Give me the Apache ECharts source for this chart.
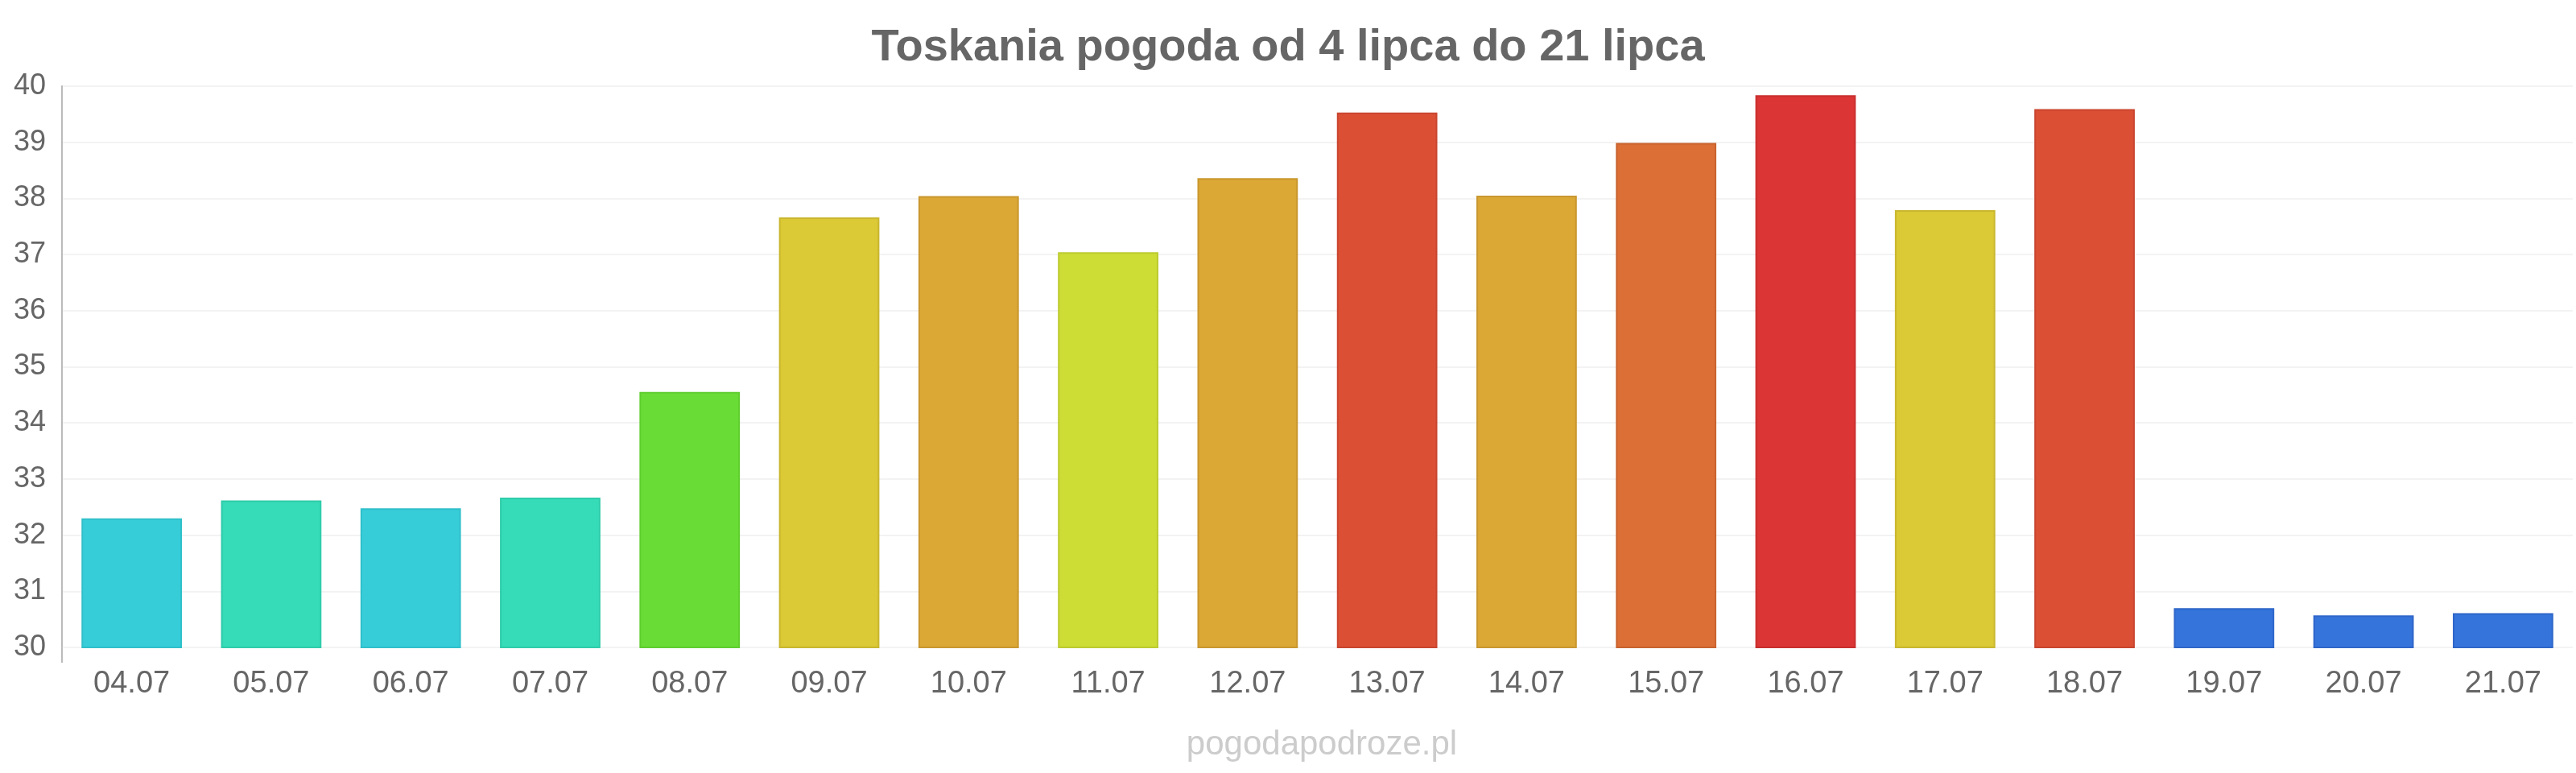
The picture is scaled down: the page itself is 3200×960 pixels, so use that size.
<!DOCTYPE html>
<html>
<head>
<meta charset="utf-8">
<script src="https://cdn.jsdelivr.net/npm/echarts@6/dist/echarts.min.js"></script>
<style>
  html, body { margin: 0; padding: 0; background: #fff; }
  #chart { width: 3200px; height: 960px; }
</style>
</head>
<body>
<div id="chart"></div>
<script>
// dni (etykiety osi X)
const days = ['04.07', '05.07', '06.07', '07.07', '08.07', '09.07', '10.07', '11.07', '12.07',
  '13.07', '14.07', '15.07', '16.07', '17.07', '18.07', '19.07', '20.07', '21.07'];
// temperatura max
const temps = [32.3, 32.62, 32.48, 32.67, 34.55, 37.66, 38.04, 37.04, 38.36,
  39.53, 38.05, 38.99, 39.84, 37.79, 39.59, 30.7, 30.57, 30.61];
// kolor slupka dla kazdego dnia
const barColors = ['#36cdd9', '#36dbb8', '#36cdd9', '#36dbb8', '#6adc36', '#dbc935', '#dba735', '#cedc36', '#dba735',
  '#db5035', '#dba735', '#db6f35', '#db3535', '#dbc935', '#db5035', '#3574db', '#3574db', '#3574db'];
const borderColors = ['#2fbfca', '#2fcca9', '#2fbfca', '#2fcca9', '#5ecd2f', '#c9b72f', '#c9972f', '#bccb2f', '#c9972f',
  '#c9452f', '#c9972f', '#c9632f', '#c92f2f', '#c9b72f', '#c9452f', '#2f66c9', '#2f66c9', '#2f66c9'];

const font = 'Liberation Sans, Arial, sans-serif';

const chart = echarts.init(document.getElementById('chart'));
chart.setOption({
  animation: false,
  title: [
    {
      text: 'Toskania pogoda od 4 lipca do 21 lipca',
      left: 'center',
      top: 27,
      textStyle: { fontFamily: font, fontSize: 56, fontWeight: 'bold', color: '#666' }
    },
    {
      text: 'pogodapodroze.pl',
      left: 1637,
      textAlign: 'center',
      top: 899,
      textStyle: { fontFamily: font, fontSize: 42, fontWeight: 'normal', color: '#ccc' }
    }
  ],
  // kawalek osi Y wystajacy pod 30
  graphic: [{
    type: 'line',
    shape: { x1: 77, y1: 804, x2: 77, y2: 823 },
    style: { stroke: '#bbb', lineWidth: 2 }
  }],
  grid: { left: 77, right: 4, top: 107, bottom: 156, containLabel: false },
  xAxis: {
    type: 'category',
    data: days,
    axisLine: { show: false },
    axisTick: { show: false },
    axisLabel: { fontFamily: font, fontSize: 38, color: '#666', margin: 27 }
  },
  yAxis: {
    type: 'value',
    min: 30,
    max: 40,
    interval: 1,
    axisLine: { show: true, lineStyle: { color: '#bbb', width: 2 } },
    axisTick: { show: false },
    axisLabel: { fontFamily: font, fontSize: 36, color: '#666', margin: 20 },
    splitLine: { lineStyle: { color: '#f3f3f3', width: 2 } }
  },
  series: [{
    type: 'bar',
    barCategoryGap: '28%',
    data: temps.map((v, i) => ({
      value: v,
      itemStyle: { color: barColors[i], borderColor: borderColors[i], borderWidth: 2 }
    }))
  }]
});
</script>
</body>
</html>
